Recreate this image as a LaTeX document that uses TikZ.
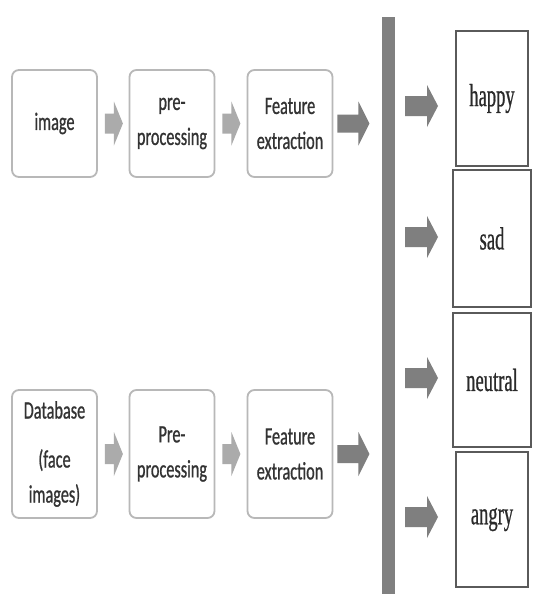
\documentclass[tikz,border=0pt]{standalone}
\usepackage{fontspec}
\usetikzlibrary{calc}
\newfontfamily\lbfont[FakeStretch=0.65,FakeBold=0.8]{Carlito}
\newfontfamily\rbfont[FakeStretch=0.58,FakeBold=0.6]{Liberation Serif}
\definecolor{lborder}{HTML}{B8B8B8}
\definecolor{ltext}{HTML}{333333}
\definecolor{rborder}{HTML}{5A5A5A}
\definecolor{rtext}{HTML}{2A2A2A}
\definecolor{arrowlight}{HTML}{ABABAB}
\definecolor{arrowdark}{HTML}{7F7F7F}
\definecolor{barcol}{HTML}{808080}
\tikzset{
  lbox/.style={draw=lborder, line width=1.8pt, rounded corners=7pt, fill=white,
    minimum width=85pt, inner sep=0pt, align=center, text=ltext,
    font=\lbfont\fontsize{25}{35}\selectfont},
  rbox/.style={draw=rborder, line width=1.5pt, fill=white, inner sep=0pt,
    text=rtext, font=\rbfont\fontsize{32}{36}\selectfont},
  smallarrow/.style={fill=arrowlight},
  bigarrow/.style={fill=arrowdark},
  pics/barrow/.style args={#1/#2/#3/#4}{code={
    \path[pic actions] (0,-#3) -- ({#1-#2},-#3) -- ({#1-#2},-#4) -- (#1,0)
      -- ({#1-#2},#4) -- ({#1-#2},#3) -- (0,#3) -- cycle;}}
}
\begin{document}
\begin{tikzpicture}[x=1pt,y=-1pt]
\useasboundingbox[fill=white] (0,0) rectangle (539,594);
% top row
\node[lbox, minimum height=107pt] (img) at (54.5,123.5) {image};
\node[lbox, minimum height=107pt] (pre1) at (172,123.5) {pre-\\processing};
\node[lbox, minimum height=107pt] (fe1) at (290,123.5) {Feature\\extraction};
% bottom row
\node[lbox, minimum height=128pt] (db) at (54.5,454) {Database\\[14pt](face\\images)};
\node[lbox, minimum height=128pt] (pre2) at (172,454) {Pre-\\processing};
\node[lbox, minimum height=128pt] (fe2) at (290,454) {Feature\\extraction};
% arrows between boxes
\pic[smallarrow] at ($(img.east)+(7,0)$) {barrow={18/9/10/22}};
\pic[smallarrow] at ($(pre1.east)+(7,0)$) {barrow={18/9/10/22}};
\pic[smallarrow] at ($(db.east)+(7,0)$) {barrow={18/9/10/22}};
\pic[smallarrow] at ($(pre2.east)+(7,0)$) {barrow={18/9/10/22}};
\pic[bigarrow] at ($(fe1.east)+(4,0)$) {barrow={32/11/9/22}};
\pic[bigarrow] at ($(fe2.east)+(4,0)$) {barrow={32/11/9/22}};
% vertical bar
\node[fill=barcol, minimum width=13pt, minimum height=577pt, inner sep=0pt, anchor=north] (bar) at (388.5,17) {};
% right boxes
\node[rbox, minimum width=72pt, minimum height=135pt] (happy) at (492,98.5) {happy};
\node[rbox, minimum width=78pt, minimum height=137pt] (sad) at (492,238.5) {sad};
\node[rbox, minimum width=78pt, minimum height=134pt] (neutral) at (492,380) {neutral};
\node[rbox, minimum width=72pt, minimum height=135pt] (angry) at (492,519.5) {angry};
% arrows to the classes
\pic[bigarrow] at (405,106) {barrow={33/11/10/21}};
\pic[bigarrow] at (405,237) {barrow={33/11/10/21}};
\pic[bigarrow] at (405,378) {barrow={33/11/10/21}};
\pic[bigarrow] at (405,517) {barrow={33/11/10/21}};
\end{tikzpicture}
\end{document}
